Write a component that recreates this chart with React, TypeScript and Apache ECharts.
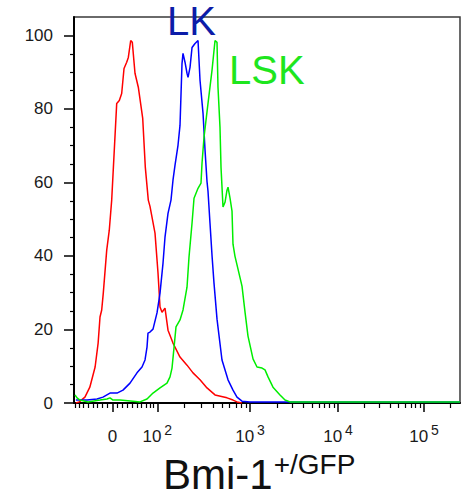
import { useEffect, useRef } from "react";
import * as echarts from "echarts";

// Logicle (biexponential) display used for the fluorescence axis
const TOP_OF_SCALE = 262144;
const DECADES = 4.5;
const LINEAR_WIDTH = 0.45;
const CHANNELS = 1024;

// Histogram traces: display channel (0-1024) and % of max
const controlChannel = [5, 14, 29, 42, 56, 64, 69, 73.5, 77.7, 86.8, 93.6, 100, 113.3, 120.2, 126.5, 132.7, 139.8, 144.1, 150.4, 154.7, 161.8, 170.6, 182.3, 189.2, 197.1, 201.6, 214.9, 222.9, 228.2, 233.5, 241.4, 249.4, 262.6, 281.2, 299.8, 315.7, 334.3, 352.8, 374.1, 405.9, 421.8, 432.4, 445.7];
const controlPercent = [0, 0.3, 1.6, 4.3, 9.8, 16.3, 23.4, 25.3, 29.9, 41.6, 47, 55.2, 81.5, 82.3, 84.2, 91, 92.7, 94, 98.6, 98.1, 89.7, 85.9, 77.4, 64.1, 55.2, 53.5, 46.2, 35.3, 26.1, 24.7, 25.8, 19.8, 16.3, 12.5, 10.3, 8.2, 6.3, 4.1, 2.2, 1.4, 0.8, 0.3, 0];

const lkChannel = [5, 34.5, 61, 76.9, 95.5, 114.1, 130, 148.6, 167.1, 180.4, 188.4, 193.7, 196.3, 201.6, 209.6, 220.2, 228.2, 236.1, 241.4, 249.4, 257.3, 262.6, 268, 275.9, 281.2, 286.5, 289.2, 294.5, 299.8, 302.5, 307.8, 313.1, 321.1, 329, 334.3, 342.3, 347.6, 352.8, 355.5, 360.8, 366.1, 371.4, 379.4, 392.6, 408.6, 421.8, 432.4, 445.7, 466.9, 1024];
const lkPercent = [0.8, 0.8, 1.1, 1.6, 2.7, 2.7, 3.5, 5.4, 8.2, 9.8, 11.7, 15.2, 19, 19.3, 20.1, 24.5, 29.9, 38, 45.1, 51.6, 55.2, 60.6, 64.7, 70.1, 75.5, 92.3, 95.1, 92.7, 89.7, 88.6, 91.3, 96.7, 97.8, 98.6, 87.8, 78.8, 68.8, 60.3, 57.6, 48.9, 40.2, 32.6, 22.8, 11.7, 6.3, 3.5, 1.6, 0.5, 0.3, 0.3];

const lskChannel = [2.7, 8, 15.9, 37.1, 69, 87.5, 95.5, 103.5, 122, 156.5, 175.1, 193.7, 209.6, 228.2, 246.7, 254.7, 260, 262.6, 270.6, 281.2, 289.2, 299.8, 305.1, 313.1, 318.4, 329, 336.9, 339.6, 344.9, 355.5, 366.1, 374.1, 379.4, 382, 387.3, 390, 395.3, 400.6, 405.9, 408.6, 413.9, 419.2, 421.8, 427.1, 435.1, 445.7, 453.7, 461.6, 474.9, 485.5, 498.8, 506.7, 514.7, 527.9, 546.5, 559.8, 573.1, 1024];
const lskPercent = [2.2, 1.4, 0.8, 0.3, 0.8, 1.1, 1.4, 0.8, 0.8, 0.5, 0.3, 1.1, 2.7, 4.1, 5.4, 7.1, 9.5, 12.2, 20.7, 22.6, 25.3, 31.5, 39.7, 48.9, 55.7, 58.4, 59.8, 65.2, 72.3, 81.5, 90.5, 98.6, 98.1, 85.9, 75, 64.1, 53.3, 54.6, 57.9, 58.7, 55.7, 52.2, 43.2, 39.9, 36.4, 31.8, 24.7, 18.2, 12, 9.8, 9.5, 9, 7.1, 4.3, 2.2, 0.8, 0.3, 0.3];

// Axis ticks
const yMajorTicks = [0, 20, 40, 60, 80, 100];
const yMinorTicks = [5, 10, 15, 25, 30, 35, 45, 50, 55, 65, 70, 75, 85, 90, 95];
const xMajorValues = [0, 1e2, 1e3, 1e4, 1e5];
const xMajorExponents = [null, 2, 3, 4, 5];
const xMinorMultiples = [1, 2, 3, 4, 5, 6, 7, 8, 9];
const xMinorDecades = [1e1, 1e2, 1e3, 1e4, 1e5];

const FONT = "'Liberation Sans', Arial, Helvetica, sans-serif";

const LN10 = Math.log(10);
const mN = DECADES * LN10;
const wN = LINEAR_WIDTH * LN10;

function solveP(w: number) {
  let lo = 1.000001;
  let hi = 50;
  for (let i = 0; i < 200; i++) {
    const mid = (lo + hi) / 2;
    const f = (2 * mid * Math.log(mid)) / (mid + 1);
    if (f < w) lo = mid;
    else hi = mid;
  }
  return (lo + hi) / 2;
}
const P = solveP(wN);
const SCALE = TOP_OF_SCALE * Math.exp(-(mN - wN));

function biex(x: number): number {
  if (x >= wN) {
    const u = x - wN;
    return SCALE * (Math.exp(u) - P * P * Math.exp(-u / P) + P * P - 1);
  }
  return -biex(2 * wN - x);
}

function toChannel(v: number) {
  let lo = -mN;
  let hi = 2 * mN;
  for (let i = 0; i < 200; i++) {
    const mid = (lo + hi) / 2;
    if (biex(mid) < v) lo = mid;
    else hi = mid;
  }
  return (((lo + hi) / 2) / mN) * CHANNELS;
}

const xMajorChannels = xMajorValues.map(toChannel);
const xMinorChannels: number[] = [];
xMinorDecades.forEach((d) => {
  xMinorMultiples.forEach((k) => {
    const v = k * d;
    if (xMajorValues.includes(v)) return;
    [v, -v].forEach((s) => {
      if (s < 0 && d > 10) return;
      const c = toChannel(s);
      if (c > 0 && c < CHANNELS) xMinorChannels.push(c);
    });
  });
});

function xLabel(value: number) {
  let best = 0;
  xMajorChannels.forEach((c, i) => {
    if (Math.abs(c - value) < Math.abs(xMajorChannels[best] - value)) best = i;
  });
  const e = xMajorExponents[best];
  return e === null ? "{b|0}" : `{b|10}{e|${e}}`;
}

function pairs(xs: number[], ys: number[]) {
  return xs.map((x, i) => [x, ys[i]]);
}

export default function App() {
  const ref = useRef<HTMLDivElement>(null);

  useEffect(() => {
    if (!ref.current) return;
    const chart = echarts.init(ref.current, null, { renderer: "svg" });
    const axisCommon = {
      type: "value" as const,
      splitLine: { show: false },
    };
    chart.setOption({
      animation: false,
      backgroundColor: "#ffffff",
      grid: {
        left: 74,
        right: 3,
        top: 17,
        bottom: 91,
        show: true,
        borderColor: "#3a3a3a",
        borderWidth: 1.5,
      },
      title: [
        {
          text: "LK",
          left: 167,
          top: 1,
          padding: 0,
          textStyle: { color: "#0c1ca8", fontSize: 40, fontWeight: "normal", fontFamily: FONT, lineHeight: 40 },
        },
        {
          text: "LSK",
          left: 229,
          top: 50,
          padding: 0,
          textStyle: { color: "#1ee61e", fontSize: 40, fontWeight: "normal", fontFamily: FONT, lineHeight: 40 },
        },
        {
          text: "{m|Bmi-1}{s|+/GFP}",
          left: 163,
          top: 458,
          padding: 0,
          textStyle: {
            fontWeight: "normal",
            rich: {
              m: { fontSize: 42, lineHeight: 32, fontWeight: "normal", fontFamily: FONT, color: "#111111" },
              s: { fontSize: 28, lineHeight: 12, fontWeight: "normal", padding: [0, 0, 20, 1], fontFamily: FONT, color: "#111111" },
            },
          },
        },
      ],
      xAxis: [
        {
          ...axisCommon,
          min: 0,
          max: CHANNELS,
          position: "bottom",
          axisLine: { onZero: false, lineStyle: { color: "#000000", width: 2 } },
          axisTick: { customValues: xMajorChannels, length: 9, lineStyle: { color: "#000000", width: 1.5 } },
          axisLabel: {
            customValues: xMajorChannels,
            margin: 20,
            formatter: (v: number) => xLabel(v),
            rich: {
              b: { fontSize: 17, lineHeight: 26, fontFamily: FONT, color: "#1a1a1a" },
              e: { fontSize: 14, lineHeight: 14, padding: [0, 0, 12, 3], fontFamily: FONT, color: "#1a1a1a" },
            },
          },
        },
        {
          ...axisCommon,
          min: 0,
          max: CHANNELS,
          position: "bottom",
          axisLine: { show: false, onZero: false },
          axisTick: { customValues: xMinorChannels, length: 5, lineStyle: { color: "#000000", width: 1.2 } },
          axisLabel: { show: false },
        },
      ],
      yAxis: [
        {
          ...axisCommon,
          min: 0,
          max: 105,
          position: "left",
          axisLine: { show: true, onZero: false, lineStyle: { color: "#000000", width: 2 } },
          axisTick: { show: true, customValues: yMajorTicks, length: 10, lineStyle: { color: "#000000", width: 1.5 } },
          axisLabel: { customValues: yMajorTicks, margin: 21, fontSize: 17, fontFamily: FONT, color: "#1a1a1a" },
        },
        {
          ...axisCommon,
          min: 0,
          max: 105,
          position: "left",
          axisLine: { show: false, onZero: false },
          axisTick: { show: true, customValues: yMinorTicks, length: 4, lineStyle: { color: "#000000", width: 1.2 } },
          axisLabel: { show: false },
        },
      ],
      series: [
        {
          name: "Control",
          type: "line",
          data: pairs(controlChannel, controlPercent),
          showSymbol: false,
          symbol: "none",
          lineStyle: { color: "#ff0000", width: 1.5 },
        },
        {
          name: "LK",
          type: "line",
          data: pairs(lkChannel, lkPercent),
          showSymbol: false,
          symbol: "none",
          lineStyle: { color: "#0000ff", width: 1.5 },
        },
        {
          name: "LSK",
          type: "line",
          data: pairs(lskChannel, lskPercent),
          showSymbol: false,
          symbol: "none",
          lineStyle: { color: "#00ee00", width: 1.5 },
        },
      ],
    });
    return () => chart.dispose();
  }, []);

  return (
    <div
      ref={ref}
      style={{ position: "fixed", left: 0, top: 0, width: 463, height: 494, background: "#fff" }}
    />
  );
}
